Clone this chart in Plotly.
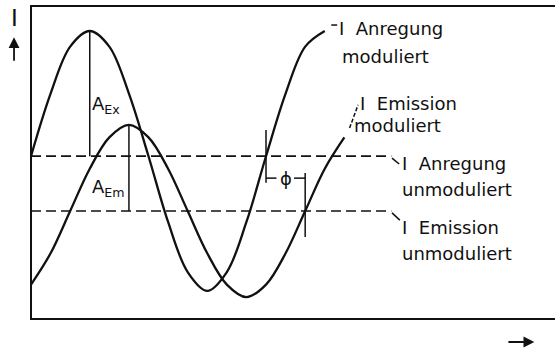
import plotly.graph_objects as go

# Time axis in degrees of the modulation period, intensity in arbitrary units (box = 0..10)
t_exc = list(range(0, 451, 30))
i_exc = [5.2, 7.2, 8.7, 9.2, 8.7, 7.2, 5.2, 3.1, 1.5, 0.9, 1.5, 3.1, 5.2, 7.2, 8.7, 9.2]

t_em = list(range(0, 481, 30))
i_em = [1.1, 2.1, 3.45, 4.8, 5.8, 6.2, 5.8, 4.8, 3.45, 2.1, 1.1, 0.7, 1.1, 2.1, 3.45, 4.8, 5.8]

exc_mean = 5.2
em_mean = 3.45
exc_peak_t = 90
em_peak_t = 150
phase_lag = 60
cross_t = 360
mean_end_t = 552

INK = "#111111"
FONT = "DejaVu Sans"

fig = go.Figure()

# modulated curves
fig.add_trace(go.Scatter(x=t_exc, y=i_exc, mode="lines",
                         line=dict(color=INK, width=2.3, shape="spline", smoothing=1),
                         hoverinfo="skip", showlegend=False))
fig.add_trace(go.Scatter(x=t_em, y=i_em, mode="lines",
                         line=dict(color=INK, width=2.3, shape="spline", smoothing=1),
                         hoverinfo="skip", showlegend=False))

# unmodulated (mean) levels
for lvl in (exc_mean, em_mean):
    fig.add_trace(go.Scatter(x=[0, mean_end_t], y=[lvl, lvl], mode="lines",
                             line=dict(color=INK, width=1.7, dash="10px,5px"),
                             hoverinfo="skip", showlegend=False))

shapes = []
def seg(x0, y0, x1, y1, w=1.5, dash="solid"):
    shapes.append(dict(type="line", xref="x", yref="y", x0=x0, y0=y0, x1=x1, y1=y1,
                       line=dict(color=INK, width=w, dash=dash)))

# frame
shapes.append(dict(type="rect", xref="x", yref="y", x0=0, y0=0, x1=830, y1=10,
                   line=dict(color=INK, width=2)))

# amplitude markers
seg(exc_peak_t, exc_mean, exc_peak_t, max(i_exc), w=1.5)
seg(em_peak_t, em_mean, em_peak_t, max(i_em), w=1.5)

# phase shift marker
seg(cross_t, 6.04, cross_t, 4.35)
seg(cross_t + phase_lag, 4.66, cross_t + phase_lag, 2.62)
seg(cross_t, 4.5, cross_t + 16, 4.5)
seg(cross_t + phase_lag - 17, 4.5, cross_t + phase_lag, 4.5)

# leaders to the labels
seg(460, 9.39, 469, 9.39)
seg(488, 6.10, 501, 6.84, w=1.5, dash="4px,2px")
seg(553, 5.14, 564, 4.95)
seg(553, 3.39, 565, 3.16)

annotations = []
def label(x, y, text, size=18, xanchor="left"):
    annotations.append(dict(x=x, y=y, xref="x", yref="y", text=text, showarrow=False,
                            xanchor=xanchor, yanchor="middle",
                            font=dict(family=FONT, size=size, color=INK)))

label(469, 9.27, "I\u00a0\u00a0Anregung")
label(474, 8.40, "moduliert")
label(501, 6.88, "I\u00a0\u00a0Emission")
label(491, 6.18, "moduliert")
label(565, 4.97, "I\u00a0\u00a0Anregung")
label(566, 4.14, "unmoduliert")
label(565, 2.92, "I\u00a0\u00a0Emission")
label(566, 2.09, "unmoduliert")

label(91, 6.85, "A<sub>Ex</sub>")
label(91, 4.18, "A<sub>Em</sub>")
label(cross_t + phase_lag / 2, 4.5, "\u03d5", size=18, xanchor="center")

# axis labels with arrows
label(-25.3, 9.62, "I", size=23, xanchor="center")
annotations.append(dict(x=-26, y=9.0, ax=-26, ay=8.2, xref="x", yref="y", axref="x", ayref="y",
                        text="", showarrow=True, arrowhead=2, arrowsize=1.2, arrowwidth=1.8,
                        arrowcolor=INK))
annotations.append(dict(x=771, y=-0.735, ax=729, ay=-0.735, xref="x", yref="y", axref="x",
                        ayref="y", text="", showarrow=True, arrowhead=2, arrowsize=1.2,
                        arrowwidth=1.8, arrowcolor=INK))

fig.update_layout(
    width=555, height=349,
    margin=dict(l=0, r=0, t=0, b=0),
    paper_bgcolor="white", plot_bgcolor="white",
    xaxis=dict(range=[-47.5, 802.7], visible=False, fixedrange=True),
    yaxis=dict(range=[-0.958, 10.19], visible=False, fixedrange=True),
    shapes=shapes, annotations=annotations,
)

fig.write_html("out.html")
